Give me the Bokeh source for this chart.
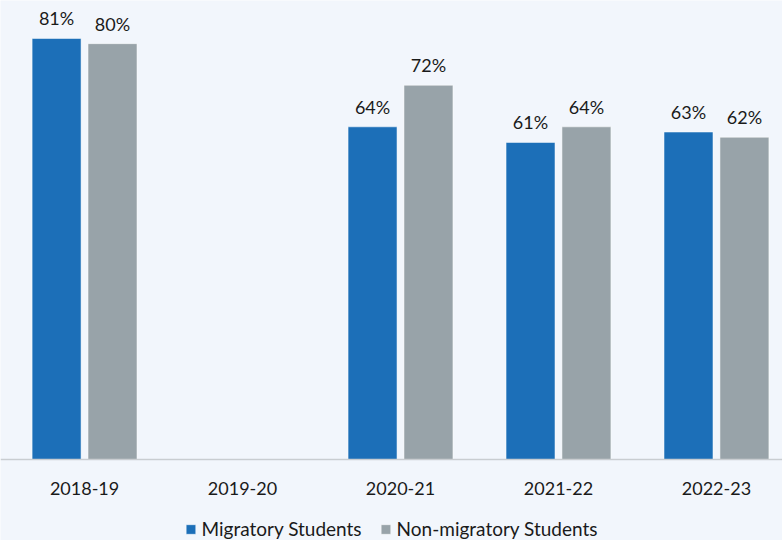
import math
from bokeh.plotting import figure
from bokeh.models import ColumnDataSource, Range1d, FixedTicker, Legend, LegendItem
from bokeh.core.properties import value
from bokeh.embed import file_html
from bokeh.resources import INLINE

categories = ["2018-19", "2019-20", "2020-21", "2021-22", "2022-23"]
migratory = [81, None, 64, 61, 63]
non_migratory = [80, None, 72, 64, 62]
series_names = ["Migratory Students", "Non-migratory Students"]
colors = ["#1c6fb8", "#98a3a9"]

BG = "#f2f6fc"
FONT = "Lato"

p = figure(frame_width=782, frame_height=540, output_backend="svg", toolbar_location=None,
           x_range=Range1d(-0.532, 4.418), y_range=Range1d(-15.58, 88.3),
           min_border_left=0, min_border_right=0, min_border_top=0, min_border_bottom=0,
           background_fill_color=BG, border_fill_color=BG, outline_line_color=None)

offsets = [-0.177, 0.177]
renderers = []
for vals, off, col in zip([migratory, non_migratory], offsets, colors):
    xs, tops, labels = [], [], []
    for i, v in enumerate(vals):
        if v is None:
            continue
        xs.append(i + off)
        tops.append(v)
        labels.append(f"{v}%")
    src = ColumnDataSource(dict(x=xs, top=tops, label=labels))
    r = p.vbar(x="x", top="top", bottom=0, width=0.31, source=src, fill_color=col,
               line_color="white", line_width=1, line_alpha=0.5)
    renderers.append(r)
    p.text(x="x", y="top", text="label", source=src, text_align="center", text_baseline="middle",
           y_offset=-20, text_font=value(FONT), text_font_size="18px", text_color="#1a1a1a")

p.xaxis.fixed_location = 0
p.xaxis.ticker = FixedTicker(ticks=list(range(len(categories))))
p.xaxis.major_label_overrides = {i: c for i, c in enumerate(categories)}
p.xaxis.major_tick_line_color = None
p.xaxis.minor_tick_line_color = None
p.xaxis.axis_line_color = "#c9cdd1"
p.xaxis.axis_line_width = 1.5
p.xaxis.major_label_standoff = 16
p.xaxis.major_label_text_font = FONT
p.xaxis.major_label_text_font_size = "18px"
p.xaxis.major_label_text_color = "#1a1a1a"
p.yaxis.visible = False
p.xgrid.visible = False
p.ygrid.visible = False

legend = Legend(items=[LegendItem(label=n, renderers=[r]) for n, r in zip(series_names, renderers)],
                orientation="horizontal", location="bottom_center", background_fill_alpha=0,
                border_line_color=None, label_text_font=FONT, label_text_font_size="19px",
                label_text_color="#1a1a1a", glyph_width=12, glyph_height=12, label_standoff=5,
                spacing=18, margin=0, padding=0)
p.add_layout(legend, "center")

open("out.html", "w").write(file_html(p, INLINE))
